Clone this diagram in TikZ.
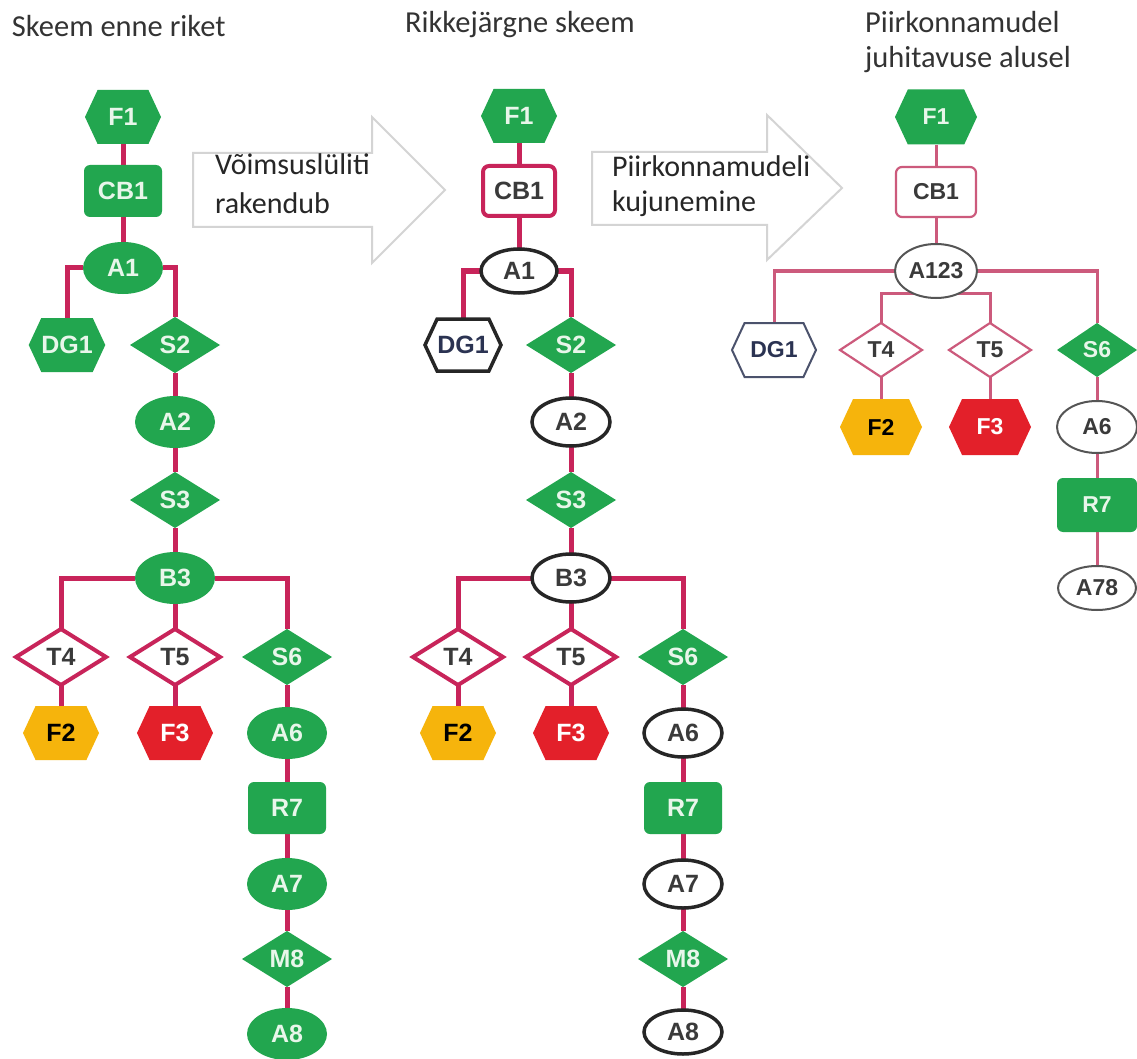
\documentclass[tikz,border=0pt]{standalone}
\usepackage{fontspec}
\setmainfont{Carlito}
\newfontfamily\labfont{Liberation Sans}
\usetikzlibrary{shapes.geometric,shapes.symbols,backgrounds}
\definecolor{gr}{HTML}{22A64F}
\definecolor{crim}{HTML}{C8245A}
\definecolor{crimR}{HTML}{CC5A7C}
\definecolor{orng}{HTML}{F6B40C}
\definecolor{redf}{HTML}{E3202A}
\definecolor{gtext}{HTML}{E8F6EA}
\definecolor{dtext}{HTML}{3A3A3A}
\definecolor{navy}{HTML}{2B3352}
\definecolor{arrowgray}{HTML}{D4D4D4}
\definecolor{titlec}{HTML}{333333}
\definecolor{grayline}{HTML}{555555}
\begin{document}
\begin{tikzpicture}[x=1pt,y=-1pt,
 base/.style={inner sep=0pt, outer sep=0pt, font=\labfont\bfseries\fontsize{25}{25}\selectfont},
 baseR/.style={inner sep=0pt, outer sep=0pt, font=\labfont\bfseries\fontsize{23}{23}\selectfont},
 hexa/.style={shape=signal, signal to=east and west, signal pointer angle=130, minimum width=76pt, minimum height=54pt},
 rectb/.style={shape=rectangle, rounded corners=6pt, minimum width=78pt, minimum height=52pt},
 ell/.style={shape=ellipse, minimum width=80pt, minimum height=52pt},
 dia/.style={shape=diamond, minimum width=90pt, minimum height=56pt},
 gfill/.style={fill=gr, draw=none, text=gtext},
 wred/.style={fill=white, draw=crim, line width=4pt, text=dtext},
 wblack/.style={fill=white, draw=black!85, line width=3.5pt, text=dtext},
 orangef/.style={fill=orng, draw=none, text=black},
 redff/.style={fill=redf, draw=none, text=white},
 wredR/.style={fill=white, draw=crimR, line width=2.2pt, text=dtext},
 wgrayR/.style={fill=white, draw=grayline, line width=2pt, text=dtext},
 wnavyR/.style={fill=white, draw=navy!85, line width=2pt, text=navy},
 conn/.style={draw=crim, line width=5pt},
 connR/.style={draw=crimR, line width=3pt},
 arrowst/.style={draw=arrowgray, line width=2pt, fill=white},
 ttext/.style={inner sep=0pt, outer sep=0pt, text=titlec, font=\fontsize{30.5}{30.5}\selectfont},
 atext/.style={inner sep=0pt, outer sep=0pt, text=black!85, font=\fontsize{30}{30}\selectfont}
]
\useasboundingbox (0,0) rectangle (1137,1059);

% titles
\node[ttext, anchor=base west] (t1) at (12,37) {Skeem enne riket};
\node[ttext, anchor=base west] (t2) at (405,33) {Rikkejärgne skeem};
\node[ttext, anchor=base west] (t3a) at (865,33) {Piirkonnamudel};
\node[ttext, anchor=base west] (t3b) at (865,68) {juhitavuse alusel};

% block arrows
\draw[arrowst] (193,153) -- (372,153) -- (372,117) -- (445,190) -- (372,263) -- (372,227) -- (193,227) -- cycle;
\draw[arrowst] (592,152) -- (767,152) -- (767,115) -- (842,188) -- (767,260) -- (767,225) -- (592,225) -- cycle;
\node[atext, anchor=base west] (a1t1) at (215,175) {Võimsuslüliti};
\node[atext, anchor=base west] (a1t2) at (215,214) {rakendub};
\node[atext, anchor=base west] (a2t1) at (612,177) {Piirkonnamudeli};
\node[atext, anchor=base west] (a2t2) at (612,212) {kujunemine};

% left column
\node[base,hexa,gfill] (lF1) at (123,117) {F1};
\node[base,rectb,gfill] (lCB1) at (123,191) {CB1};
\node[base,ell,gfill] (lA1) at (123,268) {A1};
\node[base,hexa,gfill] (lDG1) at (67,345) {DG1};
\node[base,dia,gfill] (lS2) at (175,345) {S2};
\node[base,ell,gfill] (lA2) at (175,422) {A2};
\node[base,dia,gfill] (lS3) at (175,500) {S3};
\node[base,ell,gfill] (lB3) at (175,578) {B3};
\node[base,dia,wred] (lT4) at (61,657) {T4};
\node[base,dia,wred] (lT5) at (175,657) {T5};
\node[base,dia,gfill] (lS6) at (287,657) {S6};
\node[base,hexa,orangef] (lF2) at (61,733) {F2};
\node[base,hexa,redff] (lF3) at (175,733) {F3};
\node[base,ell,gfill] (lA6) at (287,733) {A6};
\node[base,rectb,gfill] (lR7) at (287,808) {R7};
\node[base,ell,gfill] (lA7) at (287,884) {A7};
\node[base,dia,gfill] (lM8) at (287,959) {M8};
\node[base,ell,gfill] (lA8) at (287,1034) {A8};

% middle column
\node[base,hexa,gfill] (mF1) at (519,116) {F1};
\node[base,rectb,wred,minimum width=72pt,minimum height=50pt] (mCB1) at (519,191) {CB1};
\node[base,ell,wblack,minimum width=76pt,minimum height=44pt] (mA1) at (519,271) {A1};
\node[base,hexa,wblack,text=navy,minimum width=76pt,minimum height=52pt] (mDG1) at (463,345) {DG1};
\node[base,dia,gfill] (mS2) at (571,345) {S2};
\node[base,ell,wblack,minimum width=78pt,minimum height=48pt] (mA2) at (571,422) {A2};
\node[base,dia,gfill] (mS3) at (571,500) {S3};
\node[base,ell,wblack,minimum width=78pt,minimum height=48pt] (mB3) at (571,578) {B3};
\node[base,dia,wred] (mT4) at (458,657) {T4};
\node[base,dia,wred] (mT5) at (571,657) {T5};
\node[base,dia,gfill] (mS6) at (683,657) {S6};
\node[base,hexa,orangef] (mF2) at (458,733) {F2};
\node[base,hexa,redff] (mF3) at (571,733) {F3};
\node[base,ell,wblack,minimum width=78pt,minimum height=48pt] (mA6) at (683,733) {A6};
\node[base,rectb,gfill] (mR7) at (683,808) {R7};
\node[base,ell,wblack,minimum width=78pt,minimum height=48pt] (mA7) at (683,884) {A7};
\node[base,dia,gfill] (mM8) at (683,959) {M8};
\node[base,ell,wblack,minimum width=78pt,minimum height=44pt] (mA8) at (683,1032) {A8};

% right column
\node[baseR,hexa,gfill,minimum width=82pt,minimum height=55pt] (rF1) at (936,117) {F1};
\node[baseR,rectb,wredR,minimum width=80pt,minimum height=50pt] (rCB1) at (936,192) {CB1};
\node[baseR,ell,wgrayR,minimum width=82pt,minimum height=54pt] (rA123) at (936,271) {A123};
\node[baseR,hexa,wnavyR,minimum width=84pt,minimum height=54pt] (rDG1) at (774,350) {DG1};
\node[baseR,dia,wredR,minimum width=82pt,minimum height=54pt] (rT4) at (881,350) {T4};
\node[baseR,dia,wredR,minimum width=82pt,minimum height=54pt] (rT5) at (990,350) {T5};
\node[baseR,dia,gfill,minimum width=80pt,minimum height=54pt] (rS6) at (1097,350) {S6};
\node[baseR,hexa,orangef,minimum width=82pt,minimum height=56pt] (rF2) at (881,427) {F2};
\node[baseR,hexa,redff,minimum width=82pt,minimum height=56pt] (rF3) at (990,427) {F3};
\node[baseR,ell,wgrayR,minimum width=80pt,minimum height=52pt] (rA6) at (1097,427) {A6};
\node[baseR,rectb,gfill,minimum width=80pt,minimum height=54pt] (rR7) at (1097,505) {R7};
\node[baseR,ell,wgrayR,minimum width=78pt,minimum height=44pt] (rA78) at (1097,588) {A78};
\coordinate (rbar) at (936,293);

\begin{pgfonlayer}{background}
\fill[white] (0,0) rectangle (1137,1059);
% left
\draw[conn] (lF1) -- (lCB1);
\draw[conn] (lCB1) -- (lA1);
\draw[conn] (lA1) -| (lDG1);
\draw[conn] (lA1) -| (lS2);
\draw[conn] (lS2) -- (lA2);
\draw[conn] (lA2) -- (lS3);
\draw[conn] (lS3) -- (lB3);
\draw[conn] (lB3) -| (lT4);
\draw[conn] (lB3) -- (lT5);
\draw[conn] (lB3) -| (lS6);
\draw[conn] (lT4) -- (lF2);
\draw[conn] (lT5) -- (lF3);
\draw[conn] (lS6) -- (lA6);
\draw[conn] (lA6) -- (lR7);
\draw[conn] (lR7) -- (lA7);
\draw[conn] (lA7) -- (lM8);
\draw[conn] (lM8) -- (lA8);
% middle
\draw[conn] (mF1) -- (mCB1);
\draw[conn] (mCB1) -- (mA1);
\draw[conn] (mA1) -| (mDG1);
\draw[conn] (mA1) -| (mS2);
\draw[conn] (mS2) -- (mA2);
\draw[conn] (mA2) -- (mS3);
\draw[conn] (mS3) -- (mB3);
\draw[conn] (mB3) -| (mT4);
\draw[conn] (mB3) -- (mT5);
\draw[conn] (mB3) -| (mS6);
\draw[conn] (mT4) -- (mF2);
\draw[conn] (mT5) -- (mF3);
\draw[conn] (mS6) -- (mA6);
\draw[conn] (mA6) -- (mR7);
\draw[conn] (mR7) -- (mA7);
\draw[conn] (mA7) -- (mM8);
\draw[conn] (mM8) -- (mA8);
% right
\draw[connR] (rF1) -- (rCB1);
\draw[connR] (rCB1) -- (rA123);
\draw[connR] (rA123) -| (rDG1);
\draw[connR] (rA123) -| (rS6);
\draw[connR] (rT4) |- (rbar) -| (rT5);
\draw[connR] (rT4) -- (rF2);
\draw[connR] (rT5) -- (rF3);
\draw[connR] (rS6) -- (rA6);
\draw[connR] (rA6) -- (rR7);
\draw[connR] (rR7) -- (rA78);
\end{pgfonlayer}
\end{tikzpicture}
\end{document}
